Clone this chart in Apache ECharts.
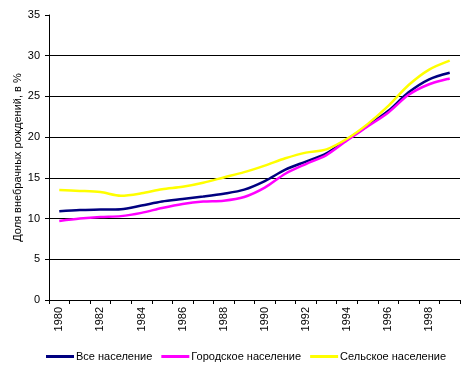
<!DOCTYPE html>
<html><head><meta charset="utf-8">
<script src="https://cdn.jsdelivr.net/npm/echarts@6/dist/echarts.min.js"></script>
<style>html,body{margin:0;padding:0;background:#fff}#c{width:462px;height:372px}</style>
</head><body><div id="c"></div>
<script>
const years = ['1980','1981','1982','1983','1984','1985','1986','1987','1988','1989','1990','1991','1992','1993','1994','1995','1996','1997','1998','1999'];
const allPop = [10.9,11.05,11.1,11.15,11.6,12.1,12.4,12.7,13.05,13.55,14.6,16.0,17.0,18.0,19.7,21.4,23.2,25.5,27.1,27.9];
const urbanPop = [9.7,10.0,10.2,10.3,10.7,11.3,11.8,12.1,12.2,12.65,13.8,15.5,16.7,17.8,19.6,21.3,23.0,25.2,26.5,27.2];
const ruralPop = [13.5,13.4,13.25,12.8,13.1,13.6,13.9,14.4,15.05,15.7,16.5,17.4,18.1,18.5,19.8,21.6,23.8,26.4,28.3,29.4];
const seriesNames = ['Все население','Городское население','Сельское население'];
const yName = 'Доля внебрачных рождений, в %';

const font = 'Liberation Sans, Arial, sans-serif';
const chart = echarts.init(document.getElementById('c'), null, {renderer:'canvas'});
function mk(name, data, color){
  return {name, type:'line', data, smooth:0.3, symbol:'none',
    lineStyle:{color, width:2.5}, itemStyle:{color}};
}
chart.setOption({
  animation:false,
  backgroundColor:'#fff',
  grid:{left:49, right:2, top:15, bottom:72},
  legend:{left:46, top:351, padding:0, width:420, icon:'rect', itemWidth:28, itemHeight:3, itemGap:9,
    textStyle:{fontFamily:font, fontSize:11, color:'#000', padding:[0,0,0,-3]},
    data:seriesNames},
  xAxis:{type:'category', data:years, boundaryGap:true,
    axisLine:{lineStyle:{color:'#000', width:1}},
    axisTick:{show:true, length:4, lineStyle:{color:'#000'}, interval:0},
    axisLabel:{rotate:90, interval:1, margin:7, fontFamily:font, fontSize:11, color:'#000'},
    splitLine:{show:false}},
  yAxis:{type:'value', min:0, max:35, interval:5,
    name:yName, nameLocation:'middle', nameGap:26, nameMoveOverlap:false,
    nameTextStyle:{fontFamily:font, fontSize:11, color:'#000'},
    axisLine:{show:true, lineStyle:{color:'#000', width:1}},
    axisTick:{show:true, length:4, lineStyle:{color:'#000'}},
    axisLabel:{margin:9, fontFamily:font, fontSize:11, color:'#000'},
    splitLine:{show:true, lineStyle:{color:['#000','#000','#000','#000','#000','#000','#000','rgba(0,0,0,0)'], width:1}}},
  series:[mk(seriesNames[0], allPop, '#000080'), mk(seriesNames[1], urbanPop, '#FF00FF'), mk(seriesNames[2], ruralPop, '#FFFF00')]
});
</script></body></html>
